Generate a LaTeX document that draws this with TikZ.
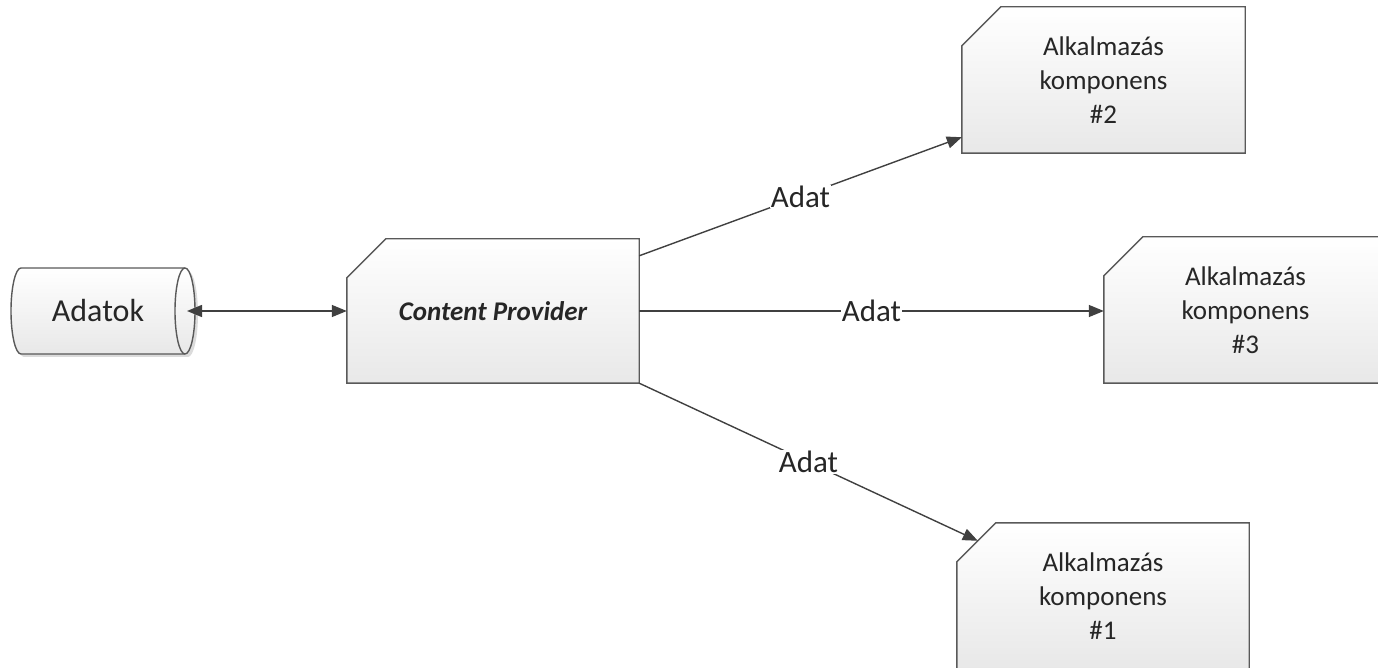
\documentclass[tikz,border=0pt]{standalone}
\usepackage{fontspec}
\setmainfont{Carlito}
\usetikzlibrary{arrows.meta,backgrounds}
\tikzset{
  boxnode/.style={draw=none, minimum height=146pt, inner sep=0pt, align=center,
    font=\fontsize{27}{34}\selectfont, text=black!85},
  boxfill/.style={draw=black!65, line width=1.4pt, top color=white, bottom color=black!9},
  shadowfill/.style={fill=black!14},
  conn/.style={draw=black!75, line width=1.4pt, -{Triangle[length=15pt,width=12pt]}},
  dconn/.style={draw=black!75, line width=1.4pt, {Triangle[length=15pt,width=12pt]}-{Triangle[length=15pt,width=12pt]}},
  adatlbl/.style={fill=white, inner sep=1pt, font=\fontsize{31}{37}\selectfont, text=black!85}
}
\begin{document}
\begin{tikzpicture}[x=1pt,y=1pt]
\useasboundingbox (0,0) rectangle (1378,667);
% nodes
\node[boxnode, minimum width=292pt, minimum height=144pt, font=\fontsize{27}{34}\selectfont\bfseries\itshape] (cp) at (493,356) {Content Provider};
\node[boxnode, minimum width=283pt] (a2) at (1103.5,587) {Alkalmazás\\komponens\\\#2};
\node[boxnode, minimum width=283pt] (a3) at (1245.5,357) {Alkalmazás\\komponens\\\#3};
\node[boxnode, minimum width=292pt] (a1) at (1103,71) {Alkalmazás\\komponens\\\#1};
\node[font=\fontsize{32}{38}\selectfont, text=black!85, inner sep=0pt] (adatok) at (98,356) {Adatok};
\coordinate (dbcap) at (187,356);
% shapes on background
\begin{scope}[on background layer]
  \foreach \n in {cp,a1,a2,a3}{
    \begin{scope}[xshift=3pt,yshift=-3pt]
      \path[shadowfill] ([yshift=-39pt]\n.north west) -- ([xshift=39pt]\n.north west) -- (\n.north east) -- (\n.south east) -- (\n.south west) -- cycle;
    \end{scope}
    \path[boxfill] ([yshift=-39pt]\n.north west) -- ([xshift=39pt]\n.north west) -- (\n.north east) -- (\n.south east) -- (\n.south west) -- cycle;
  }
  % cylinder
  \begin{scope}[xshift=3pt,yshift=-3pt]
    \path[shadowfill] (21,399) -- (185,399) arc[start angle=90, end angle=-90, x radius=10pt, y radius=43pt] -- (21,313) arc[start angle=270, end angle=90, x radius=10pt, y radius=43pt] -- cycle;
  \end{scope}
  \path[boxfill] (21,399) -- (185,399) arc[start angle=90, end angle=-90, x radius=10pt, y radius=43pt] -- (21,313) arc[start angle=270, end angle=90, x radius=10pt, y radius=43pt] -- cycle;
  \draw[draw=black!65, line width=1.4pt] (185,399) arc[start angle=90, end angle=270, x radius=10pt, y radius=43pt];
\end{scope}
% connectors
\draw[dconn] (dbcap) -- (cp.west);
\draw[conn] ([yshift=-17pt]cp.north east) -- node[adatlbl] {Adat} ([yshift=16pt]a2.south west);
\draw[conn] (cp.east) -- node[adatlbl] {Adat} (cp.east -| a3.west);
\draw[conn] (cp.south east) -- node[adatlbl] {Adat} ([shift={(21pt,-18pt)}]a1.north west);
\end{tikzpicture}
\end{document}
